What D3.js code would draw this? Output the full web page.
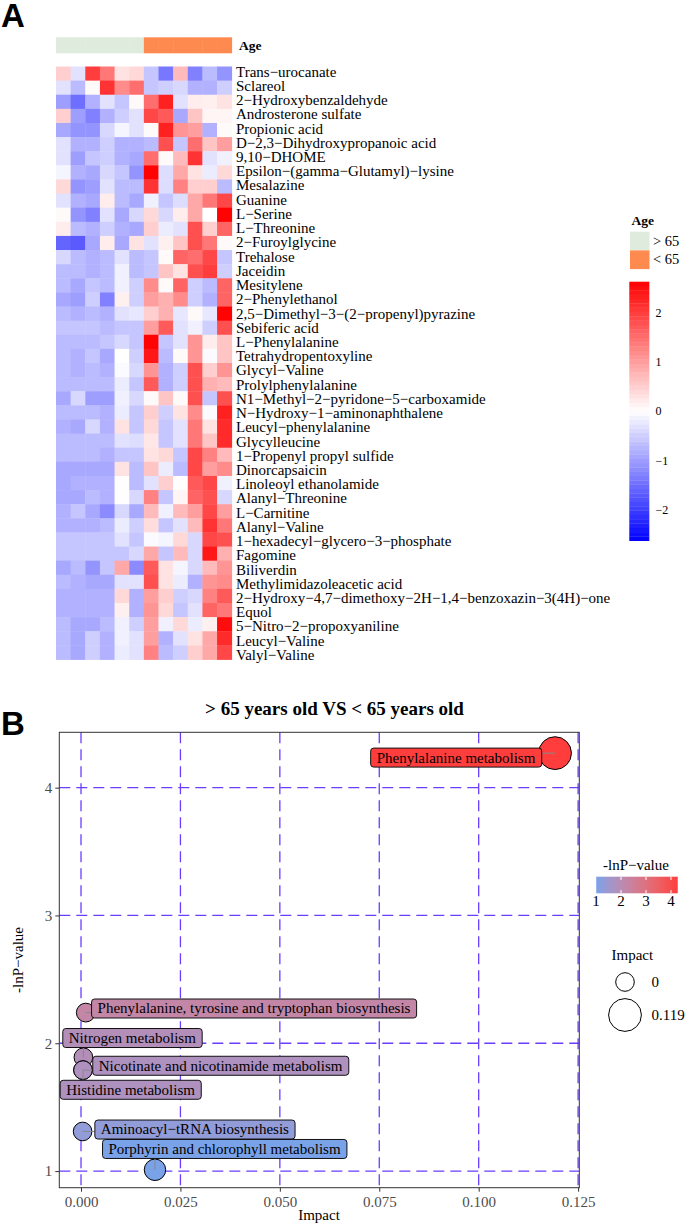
<!DOCTYPE html>
<html><head><meta charset="utf-8">
<script src="https://cdn.jsdelivr.net/npm/d3@7"></script>
<style>body{margin:0;background:#fff;} svg{display:block;}</style>
</head><body>
<svg id="c" width="685" height="1224"></svg>
<script>
// ---------------- Panel A data ----------------
const metabolites = [
  "Trans−urocanate","Sclareol","2−Hydroxybenzaldehyde","Androsterone sulfate","Propionic acid",
  "D−2,3−Dihydroxypropanoic acid","9,10−DHOME","Epsilon−(gamma−Glutamyl)−lysine","Mesalazine","Guanine",
  "L−Serine","L−Threonine","2−Furoylglycine","Trehalose","Jaceidin","Mesitylene","2−Phenylethanol",
  "2,5−Dimethyl−3−(2−propenyl)pyrazine","Sebiferic acid","L−Phenylalanine","Tetrahydropentoxyline",
  "Glycyl−Valine","Prolylphenylalanine","N1−Methyl−2−pyridone−5−carboxamide","N−Hydroxy−1−aminonaphthalene",
  "Leucyl−phenylalanine","Glycylleucine","1−Propenyl propyl sulfide","Dinorcapsaicin","Linoleoyl ethanolamide",
  "Alanyl−Threonine","L−Carnitine","Alanyl−Valine","1−hexadecyl−glycero−3−phosphate","Fagomine","Biliverdin",
  "Methylimidazoleacetic acid","2−Hydroxy−4,7−dimethoxy−2H−1,4−benzoxazin−3(4H)−one","Equol",
  "5−Nitro−2−propoxyaniline","Leucyl−Valine","Valyl−Valine"
];
const ageGroups = ["> 65","< 65"];
const sampleAge = ["> 65","> 65","> 65","> 65","> 65","> 65","< 65","< 65","< 65","< 65","< 65","< 65"];
const zScores = [
  [0.5,-0.3,2.0,1.4,0.3,0.4,-0.6,-1.4,0.7,-1.3,-0.7,-1.1],
  [-0.3,-0.7,0.05,2.1,1.2,1.5,-0.6,-0.5,-0.4,-0.8,-0.8,-0.5],
  [-1.0,-1.5,-0.8,-0.3,-0.6,0.05,1.5,2.3,-0.3,0.2,0.15,0.3],
  [0.5,-1.0,-1.3,-0.8,-0.5,-0.3,1.9,1.7,-0.9,0.6,0.1,0.1],
  [-0.9,-1.1,-1.1,-0.4,-0.1,-0.3,0.05,2.3,1.1,1.0,-0.8,0.05],
  [-0.3,-0.8,-0.8,-0.5,-0.8,-0.8,-0.7,1.8,-0.6,1.5,0.6,1.0],
  [-0.3,-1.0,-0.6,-0.5,-0.8,-0.9,1.5,0.05,0.7,2.1,-0.3,-0.15],
  [-0.1,-0.8,-0.9,-0.4,-0.6,-1.1,2.6,-0.35,0.9,0.3,-0.2,0.4],
  [0.4,-1.1,-1.0,-0.3,-0.7,-0.7,2.1,-0.35,1.3,0.5,0.5,-0.7],
  [-0.3,-0.8,-0.9,0.2,-0.7,-0.9,-0.15,-0.6,-0.35,0.9,1.4,1.9],
  [0.05,-1.1,-1.3,-0.3,-0.9,-0.4,0.4,-0.4,0.2,0.9,0.0,2.6],
  [0.2,-0.7,-0.8,-0.5,-0.8,-0.9,0.5,-0.2,-0.3,1.8,0.5,1.6],
  [-1.6,-1.7,-0.9,0.2,-0.9,0.3,-0.3,0.15,0.6,1.8,1.4,0.05],
  [-0.4,-0.7,-0.8,-0.7,-0.3,-0.7,-0.6,0.05,1.6,1.5,1.9,-0.6],
  [-0.7,-0.7,-0.8,-0.7,-0.15,-0.7,-0.6,0.6,0.3,1.8,2.0,-0.5],
  [-0.7,-0.9,-0.6,-0.7,-0.15,-0.5,1.2,0.05,1.6,-0.5,-0.7,1.6],
  [-0.9,-1.0,-0.5,-1.3,0.15,-0.5,1.0,0.8,1.2,-0.5,-0.8,1.6],
  [-0.7,-0.8,-0.7,-0.8,-0.3,-0.25,0.5,0.8,-0.25,0.05,-0.25,2.6],
  [-0.6,-0.6,-0.6,-0.7,-0.6,-0.6,1.0,1.7,-0.3,-0.15,-0.5,1.8],
  [-0.7,-0.7,-0.7,-0.6,-0.4,-0.6,2.6,-0.6,-0.3,1.1,0.2,0.6],
  [-0.7,-0.8,-0.6,-0.9,0.0,-0.5,2.4,-0.7,0.05,1.1,-0.05,0.6],
  [-0.7,-0.8,-0.7,-0.8,-0.05,-0.4,1.1,-0.8,-0.5,1.8,0.5,1.1],
  [-0.7,-0.7,-0.7,-0.7,-0.2,-0.6,1.7,-0.8,-0.5,1.8,0.8,0.7],
  [-0.9,-0.4,-1.0,-1.0,-0.15,-0.4,0.05,0.6,0.05,1.8,-0.6,1.8],
  [-0.7,-0.7,-0.7,-0.8,-0.2,-0.6,0.5,-0.5,0.3,1.2,-0.05,2.3],
  [-0.8,-0.9,-0.4,-0.8,0.3,-0.6,0.4,-0.6,-0.3,1.4,0.3,2.2],
  [-0.7,-0.7,-0.7,-0.7,-0.3,-0.35,0.25,-0.6,-0.3,1.4,0.6,2.2],
  [-0.7,-0.7,-0.7,-0.8,-0.6,-0.6,0.3,0.4,-0.6,1.9,1.3,0.7],
  [-0.9,-0.9,-0.9,-0.9,0.3,-0.7,0.6,-0.2,-0.7,1.9,1.0,1.2],
  [-0.9,-0.8,-0.8,-0.8,0.02,-0.7,-0.3,0.5,0.02,1.7,1.9,-0.15],
  [-0.9,-0.9,-0.7,-0.8,0.02,-0.4,1.3,-0.6,0.1,1.6,1.8,-0.4],
  [-0.8,-0.6,-0.9,-1.2,-0.4,-0.9,0.7,-0.15,0.7,1.0,1.9,1.0],
  [-0.8,-0.8,-0.8,-0.7,-0.2,-0.5,0.35,-0.6,-0.3,0.7,2.1,1.4],
  [-0.6,-0.6,-0.6,-0.6,-0.3,-0.6,-0.05,-0.1,0.4,-0.4,1.9,1.8],
  [-0.6,-0.6,-0.6,-0.6,-0.6,-0.4,0.9,-0.6,0.7,-0.4,2.4,0.8],
  [-0.9,-0.7,-1.1,-0.6,0.9,-1.2,1.7,0.3,-0.1,-0.4,0.7,1.1],
  [-0.7,-0.8,-0.9,-0.9,-0.3,-0.3,1.8,0.3,-0.2,-0.8,1.1,1.2],
  [-0.8,-0.8,-0.8,-0.8,0.4,-0.8,1.0,0.5,-0.5,-0.4,1.3,1.7],
  [-0.8,-0.8,-0.8,-0.8,0.15,-0.8,1.1,0.4,-0.6,-0.3,1.6,1.4],
  [-0.7,-0.9,-0.9,-0.7,-0.15,-0.5,1.0,-0.15,0.4,-0.2,0.15,2.5],
  [-0.7,-0.9,-0.5,-0.8,-0.15,-0.3,1.0,-0.8,-0.3,0.3,0.9,2.2],
  [-0.7,-0.9,-0.5,-0.8,-0.2,-0.3,1.3,-0.7,-0.5,0.5,0.9,1.9]
];
const zTicks = [-2,-1,0,1,2];
const zLimit = 2.63;

// ---------------- Panel B data ----------------
const pathways = [
  "Phenylalanine metabolism","Phenylalanine, tyrosine and tryptophan biosynthesis","Nitrogen metabolism",
  "Nicotinate and nicotinamide metabolism","Histidine metabolism","Aminoacyl−tRNA biosynthesis",
  "Porphyrin and chlorophyll metabolism"
];
const impact = [0.1192, 0.0012, 0.0006, 0.0005, 0.0005, 0.0004, 0.0186];
const negLnP = [4.27, 2.24, 1.89, 1.79, 1.79, 1.31, 1.01];
// repelled label anchors (data units)
const labelImpact = [0.0943, 0.0435, 0.0129, 0.0351, 0.01246, 0.02863, 0.0361];
const labelNegLnP = [4.235, 2.272, 2.041, 1.824, 1.636, 1.325, 1.173];
const impactTicks = [0, 0.025, 0.05, 0.075, 0.1, 0.125];
const lnPTicks = [1, 2, 3, 4];
const sizeLegendValues = [0, 0.119];

// ================= drawing =================
const svg = d3.select("#c");
const serif = "'Liberation Serif','Times New Roman',serif";
const sans = "'Liberation Sans',Arial,sans-serif";

svg.append("text").attr("x",1).attr("y",27).text("A")
  .attr("font-family",sans).attr("font-weight","bold").attr("font-size",33);
svg.append("text").attr("x",1).attr("y",735).text("B")
  .attr("font-family",sans).attr("font-weight","bold").attr("font-size",33);

// ---- heatmap
const hx = d3.scaleBand().domain(d3.range(sampleAge.length)).range([56, 231.7]);
const hy = d3.scaleBand().domain(metabolites).range([66.5, 659.5]);
const hyLab = d3.scaleBand().domain(metabolites).range([64.6, 662.1]);
const zColor = d3.scaleLinear().domain([-zLimit,0,zLimit]).range(["#0000FF","#FFFFFF","#FF0000"]);
const ageColor = d3.scaleOrdinal().domain(ageGroups).range(["#DFEBDD","#FF8A4F"]);

const hm = svg.append("g");
metabolites.forEach((m,i)=>{
  zScores[i].forEach((v,j)=>{
    hm.append("rect").attr("x",hx(j)).attr("y",hy(m))
      .attr("width",hx.bandwidth()+0.4).attr("height",hy.bandwidth()+0.4)
      .attr("fill",zColor(v));
  });
});
// annotation bar
sampleAge.forEach((a,j)=>{
  svg.append("rect").attr("x",hx(j)).attr("y",37.3).attr("width",hx.bandwidth()+0.4).attr("height",16)
    .attr("fill",ageColor(a));
});
svg.append("text").attr("x",239).attr("y",49.5).text("Age")
  .attr("font-family",serif).attr("font-weight","bold").attr("font-size",13.5);
// row labels
svg.append("g").selectAll("text").data(metabolites).join("text")
  .attr("x",236).attr("y",d=>hyLab(d)+hyLab.bandwidth()/2).attr("dy","0.33em")
  .attr("font-family",serif).attr("font-size",15).text(d=>d);

// legend: Age
svg.append("text").attr("x",631.5).attr("y",225).text("Age")
  .attr("font-family",serif).attr("font-weight","bold").attr("font-size",13.5);
ageGroups.forEach((g,i)=>{
  svg.append("rect").attr("x",630).attr("y",231.7+i*18.7).attr("width",19.5).attr("height",18.7).attr("fill",ageColor(g));
  svg.append("text").attr("x",653).attr("y",245.5+i*18.7).text(g)
    .attr("font-family",serif).attr("font-size",14.5);
});
// legend: colour bar
const cbY = d3.scaleLinear().domain([-zLimit,zLimit]).range([540.7,281.7]);
const nSteps = 60;
d3.range(nSteps).forEach(k=>{
  const v0 = -zLimit + k*(2*zLimit/nSteps), v1 = v0 + 2*zLimit/nSteps;
  svg.append("rect").attr("x",629.3).attr("width",20)
    .attr("y",cbY(v1)).attr("height",cbY(v0)-cbY(v1)+0.3)
    .attr("fill",zColor((v0+v1)/2));
});
svg.append("g").selectAll("text").data(zTicks).join("text")
  .attr("x",655.5).attr("y",d=>cbY(d)).attr("dy","0.35em")
  .attr("font-family",serif).attr("font-size",12)
  .text(d=> d<0 ? "−"+Math.abs(d) : String(d));

// ---- bubble plot
const px0 = 59.3, px1 = 579.3, py0 = 732.3, py1 = 1187.7;
const xS = d3.scaleLinear().domain([-0.00546, 0.1253]).range([px0, px1]);
const yS = d3.scaleLinear().domain([0.87, 4.433]).range([py1, py0]);
const lnPExtent = d3.extent(negLnP);
const pColor = d3.scaleLinear().domain(lnPExtent).range(["#7AA2E9","#FF3D3D"]).interpolate(d3.interpolateLab);
const rMin = 9.3, rMax = 16.4, impMax = 0.119;
const rS = v => Math.sqrt(rMin*rMin + (rMax*rMax - rMin*rMin) * v / impMax);

svg.append("text").attr("x",334.5).attr("y",715).attr("text-anchor","middle")
  .attr("font-family",serif).attr("font-weight","bold").attr("font-size",19)
  .text("> 65 years old VS < 65 years old");

const bp = svg.append("g");
// grid
const gridCol = "#6A3DFF";
bp.selectAll(".gv").data(impactTicks).join("line")
  .attr("x1",d=>xS(d)).attr("x2",d=>xS(d)).attr("y1",py0).attr("y2",py1)
  .attr("stroke",gridCol).attr("stroke-width",1.3).attr("stroke-dasharray","11,6");
bp.selectAll(".gh").data(lnPTicks).join("line")
  .attr("y1",d=>yS(d)).attr("y2",d=>yS(d)).attr("x1",px0).attr("x2",px1)
  .attr("stroke",gridCol).attr("stroke-width",1.3).attr("stroke-dasharray","11,6");
// border
bp.append("rect").attr("x",px0).attr("y",py0).attr("width",px1-px0).attr("height",py1-py0)
  .attr("fill","none").attr("stroke","#333").attr("stroke-width",1);
// axes
const xAxis = d3.axisBottom(xS).tickValues(impactTicks).tickSize(4).tickPadding(3).tickFormat(d3.format(".3f"));
const yAxis = d3.axisLeft(yS).tickValues(lnPTicks).tickSize(4).tickPadding(3).tickFormat(d3.format("d"));
const gx = bp.append("g").attr("transform",`translate(0,${py1})`).call(xAxis);
const gy = bp.append("g").attr("transform",`translate(${px0},0)`).call(yAxis);
[gx,gy].forEach(g=>{
  g.select(".domain").remove();
  g.selectAll("line").attr("stroke","#333");
  g.selectAll("text").attr("fill","#4D4D4D").attr("font-family",serif).attr("font-size",15);
});
gx.selectAll("text").attr("dy","0.85em");
svg.append("text").attr("x",319).attr("y",1220).attr("text-anchor","middle")
  .attr("font-family",serif).attr("font-size",15).text("Impact");
svg.append("text").attr("transform",`translate(23,${(py0+py1)/2}) rotate(-90)`).attr("text-anchor","middle")
  .attr("font-family",serif).attr("font-size",15).text("-lnP−value");

// points
pathways.forEach((p,i)=>{
  bp.append("circle").attr("cx",xS(impact[i])).attr("cy",yS(negLnP[i])).attr("r",rS(impact[i]))
    .attr("fill",pColor(negLnP[i])).attr("stroke","#000").attr("stroke-width",1);
});
// labels with segments
const lab = bp.append("g");
pathways.forEach((p,i)=>{
  const cx = xS(labelImpact[i]), cy = yS(labelNegLnP[i]);
  const g = lab.append("g");
  const t = g.append("text").attr("x",cx).attr("y",cy).attr("dy","0.33em").attr("text-anchor","middle")
    .attr("font-family",serif).attr("font-size",15).text(p);
  const bb = t.node().getBBox();
  const bx = bb.x - 6, bw = bb.width + 12, by = cy - 9.5, bh = 19;
  const px = xS(impact[i]), py = yS(negLnP[i]);
  const nx = Math.max(bx, Math.min(px, bx+bw)), ny = Math.max(by, Math.min(py, by+bh));
  if (Math.hypot(nx-px, ny-py) > 2) {
    g.insert("line","text").attr("x1",px).attr("y1",py).attr("x2",nx).attr("y2",ny)
      .attr("stroke","#888").attr("stroke-width",1);
  }
  g.insert("rect","text").attr("x",bx).attr("y",by).attr("width",bw).attr("height",bh)
    .attr("rx",3).attr("fill",pColor(negLnP[i])).attr("stroke","#111").attr("stroke-width",1);
});

// legend: colour
svg.append("text").attr("x",603).attr("y",870).attr("font-family",serif).attr("font-size",15).text("-lnP−value");
const lx = d3.scaleLinear().domain([2,4]).range([621,671]);
const grad = svg.append("defs").append("linearGradient").attr("id","lg");
d3.range(0,1.0001,0.1).forEach(t=>{
  const v = lnPExtent[0] + t*(lnPExtent[1]-lnPExtent[0]);
  grad.append("stop").attr("offset",t).attr("stop-color",pColor(v));
});
svg.append("rect").attr("x",lx(lnPExtent[0])).attr("y",876.7).attr("width",lx(lnPExtent[1])-lx(lnPExtent[0]))
  .attr("height",16.6).attr("fill","url(#lg)");
lnPTicks.filter(d=>d>=lnPExtent[0]).forEach(d=>{
  svg.append("line").attr("x1",lx(d)).attr("x2",lx(d)).attr("y1",876.7).attr("y2",880).attr("stroke","#fff");
  svg.append("line").attr("x1",lx(d)).attr("x2",lx(d)).attr("y1",890).attr("y2",893.3).attr("stroke","#fff");
});
svg.append("g").selectAll("text").data(lnPTicks).join("text")
  .attr("x",d=>lx(d)).attr("y",906).attr("text-anchor","middle")
  .attr("font-family",serif).attr("font-size",15).text(d=>d);

// legend: size
svg.append("text").attr("x",611.5).attr("y",960).attr("font-family",serif).attr("font-size",15).text("Impact");
const sizeY = [982, 1015];
sizeLegendValues.forEach((v,i)=>{
  svg.append("circle").attr("cx",625).attr("cy",sizeY[i]).attr("r",rS(v))
    .attr("fill","#fff").attr("stroke","#000").attr("stroke-width",1);
  svg.append("text").attr("x",651.5).attr("y",sizeY[i]).attr("dy","0.33em")
    .attr("font-family",serif).attr("font-size",15).text(String(v));
});
</script>
</body></html>
